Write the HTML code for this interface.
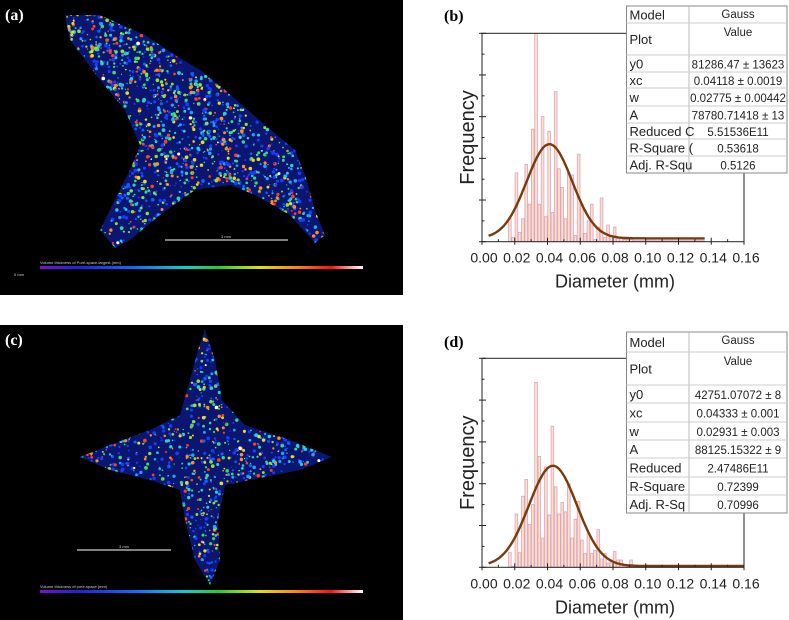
<!DOCTYPE html>
<html><head><meta charset="utf-8"><style>
html,body{margin:0;padding:0;background:#fff;}
svg{display:block;font-family:"Liberation Sans",Arial,sans-serif;}
</style></head><body>
<svg id="fig" width="789" height="620" viewBox="0 0 789 620" xmlns="http://www.w3.org/2000/svg">
<defs>
<linearGradient id="cbar" x1="0" x2="1" y1="0" y2="0">
<stop offset="0" stop-color="#7a10d0"/><stop offset="0.12" stop-color="#2020e0"/><stop offset="0.3" stop-color="#1070ff"/><stop offset="0.45" stop-color="#10d0d0"/><stop offset="0.55" stop-color="#20d030"/><stop offset="0.68" stop-color="#e0e010"/><stop offset="0.8" stop-color="#ff8010"/><stop offset="0.9" stop-color="#ff1010"/><stop offset="1" stop-color="#ffffff"/>
</linearGradient>
<clipPath id="clipA"><polygon points="65,15 100,15 145,35 175,55 200,70 225,90 265,125 295,150 305,175 315,210 325,235 315,243 290,215 255,195 230,185 195,190 160,215 130,240 115,248 100,230 130,170 140,145 125,110 100,80 70,40"/></clipPath>
<clipPath id="clipC"><polygon points="205,330 215,360 222,400 245,425 290,440 332,457 300,470 260,478 225,485 218,520 220,560 210,585 195,560 185,520 180,490 150,480 110,470 80,457 110,445 150,430 180,415 190,380 198,350"/></clipPath>
</defs>

<g>
<rect x="0" y="0" width="403" height="295" fill="#000"/>
<polygon points="65,15 100,15 145,35 175,55 200,70 225,90 265,125 295,150 305,175 315,210 325,235 315,243 290,215 255,195 230,185 195,190 160,215 130,240 115,248 100,230 130,170 140,145 125,110 100,80 70,40" fill="#0a1670"/>
<g id="dotsA" clip-path="url(#clipA)"></g>
<line x1="165" y1="240" x2="288" y2="240" stroke="#aaa" stroke-width="1.5"/>
<text x="226" y="238" font-size="4" fill="#ccc" text-anchor="middle">3 mm</text>
<text x="40" y="264" font-size="4" fill="#ccc">Volume thickness of Pore-space-largest (mm)</text>
<rect x="40" y="266" width="323" height="3" fill="url(#cbar)"/>
<text x="14" y="276" font-size="4" fill="#ccc">0 mm</text>
<text x="5" y="20" font-size="16" font-weight="bold" fill="#fff" font-family="Liberation Serif,serif">(a)</text>
</g>

<g>
<rect x="0" y="325" width="403" height="295" fill="#000"/>
<polygon points="205,330 215,360 222,400 245,425 290,440 332,457 300,470 260,478 225,485 218,520 220,560 210,585 195,560 185,520 180,490 150,480 110,470 80,457 110,445 150,430 180,415 190,380 198,350" fill="#0a1670"/>
<g id="dotsC" clip-path="url(#clipC)"></g>
<line x1="77" y1="550" x2="171" y2="550" stroke="#aaa" stroke-width="1.5"/>
<text x="124" y="548" font-size="4" fill="#ccc" text-anchor="middle">3 mm</text>
<text x="40" y="588" font-size="4" fill="#ccc">Volume thickness of pore-space (mm)</text>
<rect x="40" y="590" width="323" height="3" fill="url(#cbar)"/>
<text x="5" y="345" font-size="16" font-weight="bold" fill="#fff" font-family="Liberation Serif,serif">(c)</text>
</g>

<text x="444" y="21" font-size="16" font-weight="bold" font-family="Liberation Serif,serif">(b)</text>
<text x="444" y="347" font-size="16" font-weight="bold" font-family="Liberation Serif,serif">(d)</text>

<g id="chartB"></g>
<g id="chartD"></g>
<g id="tables"></g>
</svg>
<script>
const NS="http://www.w3.org/2000/svg";
const binStart=0.016, binWidth=0.002;
const xTicks=[0.00,0.02,0.04,0.06,0.08,0.10,0.12,0.14,0.16];
const xTickLabels=["0.00","0.02","0.04","0.06","0.08","0.10","0.12","0.14","0.16"];
const yTicks=[0,20,40,60,80,100];
const freqB=[11,2,33,4.5,11,37,18,54,100,18,60,12,53,14,72,35,26,11,33,32,3,42,18,4,10,18,1,7,21,2,8,3,7,2,2,1,1,1,0.5,0.5,0.5,0.5,0.5,0.5,0.5,0.5,0.5,0.5,0.5,0.5,0.5,0.5,0.5,0.5,0.5,0.5,0.5,0.5,0.5,0.5];
const freqD=[7,0.5,25.5,7,34,42,20.5,30,88.5,53,14,48,25,67.5,38.5,25.5,31,26.5,40,14,23,31.5,13,6.7,16,6.7,8,18,4,6.7,2,3.5,7.5,3.5,3.5,1,1,3.5,1,1,0.5,0.5,1,0.5,0.5,0.5,0.5,0.5,0.5,0.5,0.5,0.5,0.5,0.5,0.5,0.5,0.5,0.5,0.5,0.5];
const fitB=[1.6,45.2,0.04118,0.02775];
const fitD=[0.6,48.0,0.04333,0.02931];
const tableLabelsB=["Model","Plot","y0","xc","w","A","Reduced C","R-Square (","Adj. R-Squ"];
const tableValuesB=["Gauss","Value","81286.47 ± 13623","0.04118 ± 0.0019","0.02775 ± 0.00442","78780.71418 ± 13","5.51536E11","0.53618","0.5126"];
const tableLabelsD=["Model","Plot","y0","xc","w","A","Reduced","R-Square","Adj. R-Sq"];
const tableValuesD=["Gauss","Value","42751.07072 ± 8","0.04333 ± 0.001","0.02931 ± 0.003","88125.15322 ± 9","2.47486E11","0.72399","0.70996"];

function el(tag,attrs,parent){const e=document.createElementNS(NS,tag);for(const k in attrs)e.setAttribute(k,attrs[k]);parent.appendChild(e);return e;}

function drawChart(g,top,bottom,freq,fit,curveEnd){
  const L=482,R=744;
  const xs=v=>L+v/0.16*(R-L);
  const ys=u=>bottom-u/100*(bottom-top);
  freq.forEach((f,i)=>{
    const x0=xs(binStart+i*binWidth), x1=xs(binStart+(i+1)*binWidth);
    const r=el('rect',{x:x0+0.3,y:ys(f),width:x1-x0-0.6,height:bottom-ys(f),fill:'#fde2bd',stroke:'#d9a3cf','stroke-width':0.8},g);
    
    
  });
  let d='';
  for(let v=0.004;v<=curveEnd+1e-9;v+=0.001){
    const u=fit[0]+fit[1]*Math.exp(-2*(v-fit[2])**2/fit[3]**2);
    d+=(d?'L':'M')+xs(v).toFixed(1)+','+ys(u).toFixed(1);
  }
  const p=el('path',{d:d,fill:'none',stroke:'#7b3a0c','stroke-width':2.4},g);
  
  
  const fr=el('rect',{x:L,y:top,width:R-L,height:bottom-top,fill:'none',stroke:'#222','stroke-width':1},g);
  
  
  yTicks.forEach(t=>{el('line',{x1:L-3,x2:L+4,y1:ys(t),y2:ys(t),stroke:'#222'},g);});
  for(let i=0;i<5;i++){const t=i*20+10;el('line',{x1:L,x2:L+2.5,y1:ys(t),y2:ys(t),stroke:'#222'},g);}
  xTicks.forEach((t,i)=>{
    el('line',{x1:xs(t),x2:xs(t),y1:bottom+3,y2:bottom-4,stroke:'#222'},g);
    const tx=el('text',{x:xs(t)+2,y:bottom+21,'font-size':14,'text-anchor':'middle',fill:'#222'},g);
    tx.textContent=xTickLabels[i];
    
    
    if(i<xTicks.length-1){const m=xs(t+0.01);el('line',{x1:m,x2:m,y1:bottom,y2:bottom-2.5,stroke:'#222'},g);}
  });
  const yl=el('text',{x:0,y:0,'font-size':20,'text-anchor':'middle',fill:'#222',transform:`translate(474,${(top+bottom)/2}) rotate(-90)`},g);
  yl.textContent='Frequency';
  
  
  const xl=el('text',{x:(L+R)/2+2,y:bottom+46,'font-size':18,'text-anchor':'middle',fill:'#222'},g);
  xl.textContent='Diameter (mm)';
  
  
}
drawChart(document.getElementById('chartB'),33.3,241.7,freqB,fitB,0.136);
drawChart(document.getElementById('chartD'),358.3,567.3,freqD,fitD,0.16);

function drawTable(rows,labels,values,colX){
  const g=el('g',{},document.getElementById('tables'));
  
  
  const L=626.5,R=787,top=rows[0],bot=rows[rows.length-1];
  el('rect',{x:L,y:top,width:R-L,height:bot-top,fill:'#fff',stroke:'#888','stroke-width':1},g);
  el('line',{x1:colX,x2:colX,y1:top,y2:bot,stroke:'#bbb'},g);
  for(let i=1;i<rows.length-1;i++) el('line',{x1:L,x2:R,y1:rows[i],y2:rows[i],stroke:'#ccc'},g);
  labels.forEach((lab,i)=>{
    const y=(rows[i]+rows[i+1])/2+5;
    const t=el('text',{x:L+3,y:y,'font-size':13,fill:'#222'},g);t.textContent=lab;
    const vy=i===0?rows[0]+12:(i===1?rows[1]+13:y);
    const v=el('text',{x:(colX+R)/2,y:vy,'font-size':11.5,'text-anchor':'middle',fill:'#222',textLength:'',},g);v.textContent=values[i];
    v.removeAttribute('textLength');
  });
}
drawTable([6,23,55,72,88,106,123,139,156,173],tableLabelsB,tableValuesB,689);
drawTable([332,352,385,403,422,440,458,477,495,513],tableLabelsD,tableValuesD,689);

// decorative pore texture (not data)
let seed=12345;function rnd(){seed=(seed*16807)%2147483647;return seed/2147483647;}
const palette=['#1a3cff','#1060ff','#1a3cff','#20a0ff','#20d0e0','#30e060','#90e030','#e0e020','#ff9020','#ff4020','#1a3cff','#40d0a0'];
function dots(id,x0,y0,w,h,n){
  const g=document.getElementById(id);
  for(let i=0;i<n;i++){
    const r=rnd();
    const c=r<0.01?'#ffffff':palette[Math.floor(rnd()*palette.length)];
    el('circle',{cx:x0+rnd()*w,cy:y0+rnd()*h,r:0.6+rnd()*1.3,fill:c},g);
  }
}
dots('dotsA',60,10,270,245,3200);
dots('dotsC',75,325,262,265,2800);
</script>
</body></html>
